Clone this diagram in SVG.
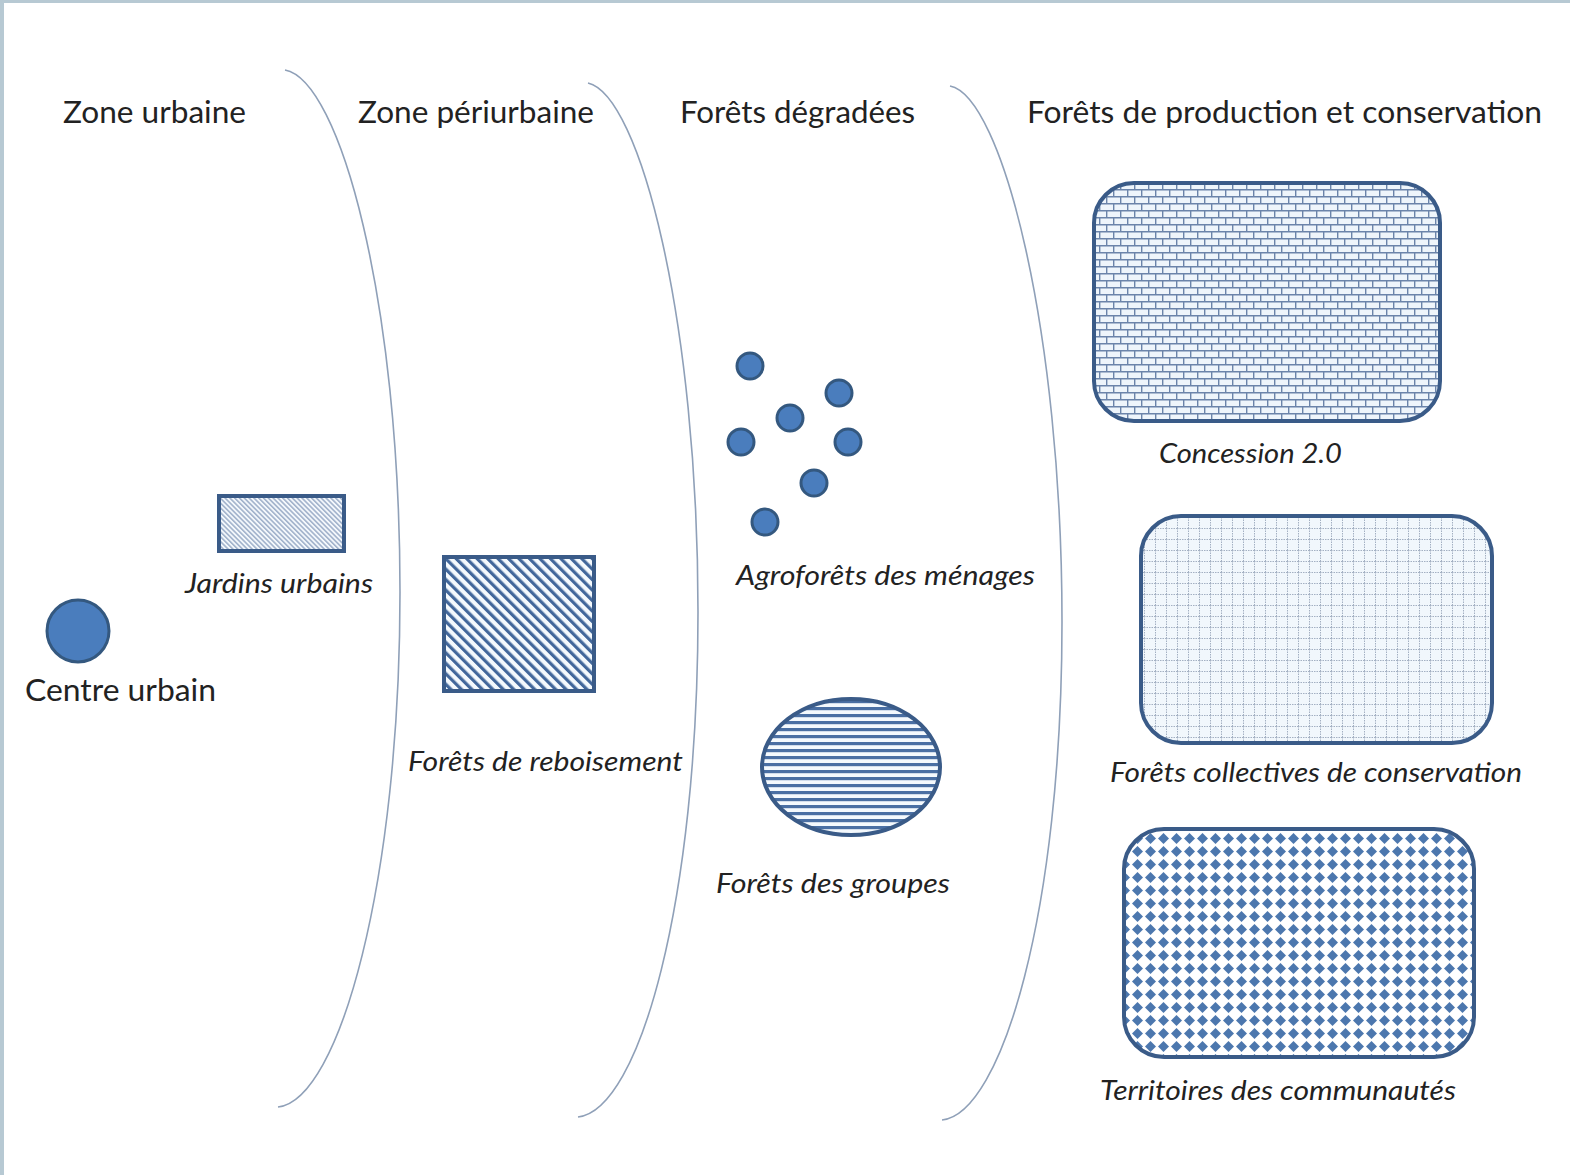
<svg xmlns="http://www.w3.org/2000/svg" width="1570" height="1175" viewBox="0 0 1570 1175">
<style>
.hdr{font-family:Lato,"Liberation Sans",sans-serif;font-size:31px;fill:#222}
.lbl{font-family:Lato,"Liberation Sans",sans-serif;font-size:27px;font-style:italic;fill:#222}
.zone{fill:none;stroke:#8fa0b8;stroke-width:1.6}
.shp{stroke:#3a5b88;stroke-width:4}
.dot{fill:#4a7dbd;stroke:#34587f;stroke-width:3}
</style>
<defs>
<pattern id="pJard" patternUnits="userSpaceOnUse" width="3.4" height="10" patternTransform="rotate(-45)">
<rect width="3.4" height="10" fill="#f4f8fc"/>
<line x1="0.8" y1="0" x2="0.8" y2="10" stroke="#8ea2c0" stroke-width="1.3"/>
</pattern>
<pattern id="pReb" patternUnits="userSpaceOnUse" width="7.4" height="10" patternTransform="rotate(-45)">
<rect width="7.4" height="10" fill="#f4f9fd"/>
<line x1="1.6" y1="0" x2="1.6" y2="10" stroke="#42679b" stroke-width="3.2"/>
</pattern>
<pattern id="pHor" patternUnits="userSpaceOnUse" width="10" height="7">
<rect width="10" height="7" fill="#f4f9fd"/>
<line x1="0" y1="1.6" x2="10" y2="1.6" stroke="#4a6fa3" stroke-width="3.2"/>
</pattern>
<pattern id="pBrick" patternUnits="userSpaceOnUse" width="14" height="14">
<rect width="14" height="14" fill="#eef5fb"/>
<path d="M0,0.7H14M0,7.7H14M0.7,0V7M7.7,7V14" stroke="#6b84aa" stroke-width="1.4" fill="none"/>
</pattern>
<pattern id="pGrid" patternUnits="userSpaceOnUse" width="11" height="11">
<rect width="11" height="11" fill="#f1f7fc"/>
<path d="M0,0.5H11M0.5,0V11" stroke="#a3b0c2" stroke-width="1" stroke-dasharray="1.5,1" fill="none"/>
</pattern>
<pattern id="pDiam" patternUnits="userSpaceOnUse" width="13" height="13">
<rect width="13" height="13" fill="#ffffff"/>
<polygon points="6.5,1 12,6.5 6.5,12 1,6.5" fill="#4c77ae"/>
</pattern>
</defs>
<rect x="0" y="0" width="1570" height="1175" fill="#ffffff"/>
<rect x="0" y="0" width="4" height="1175" fill="#b7c9d3"/>
<rect x="0" y="0" width="1570" height="3" fill="#b7c9d3"/>

<g id="connectors">
<path class="zone" d="M285,70 C340,80 400,300 400,592 C400,880 340,1100 278,1107"/>
<path class="zone" d="M588,83 C640,95 698,320 698,612 C698,900 640,1110 578,1117"/>
<path class="zone" d="M950,86 C1002,96 1062,330 1062,622 C1062,910 1002,1114 942,1120"/>
</g>

<g id="headers">
<text class="hdr" x="63" y="123" textLength="183" lengthAdjust="spacingAndGlyphs">Zone urbaine</text>
<text class="hdr" x="358" y="123" textLength="236" lengthAdjust="spacingAndGlyphs">Zone périurbaine</text>
<text class="hdr" x="680" y="123" textLength="235" lengthAdjust="spacingAndGlyphs">Forêts dégradées</text>
<text class="hdr" x="1027" y="123" textLength="515" lengthAdjust="spacingAndGlyphs">Forêts de production et conservation</text>
</g>

<g id="centre-urbain">
<circle class="dot" cx="78" cy="631" r="31"/>
<text class="hdr" x="25" y="701" textLength="191" lengthAdjust="spacingAndGlyphs">Centre  urbain</text>
</g>

<g id="jardins-urbains">
<rect class="shp" x="219" y="496" width="125" height="55" fill="url(#pJard)" stroke-width="3.5"/>
<text class="lbl" x="185" y="593" textLength="188" lengthAdjust="spacingAndGlyphs">Jardins urbains</text>
</g>

<g id="forets-reboisement">
<rect class="shp" x="444" y="557" width="150" height="134" fill="url(#pReb)"/>
<text class="lbl" x="408" y="771" textLength="275" lengthAdjust="spacingAndGlyphs">Forêts de reboisement</text>
</g>

<g id="agroforets">
<circle class="dot" cx="750" cy="366" r="13"/>
<circle class="dot" cx="839" cy="393" r="13"/>
<circle class="dot" cx="790" cy="418" r="13"/>
<circle class="dot" cx="741" cy="442" r="13"/>
<circle class="dot" cx="848" cy="442" r="13"/>
<circle class="dot" cx="814" cy="483" r="13"/>
<circle class="dot" cx="765" cy="522" r="13"/>
<text class="lbl" x="736" y="585" textLength="299" lengthAdjust="spacingAndGlyphs">Agroforêts des ménages</text>
</g>

<g id="forets-groupes">
<ellipse class="shp" cx="851" cy="767" rx="89" ry="68" fill="url(#pHor)"/>
<text class="lbl" x="716" y="893" textLength="234" lengthAdjust="spacingAndGlyphs">Forêts des groupes</text>
</g>

<g id="concession">
<rect class="shp" x="1094" y="183" width="346" height="238" rx="40" fill="url(#pBrick)"/>
<text class="lbl" x="1159" y="463" textLength="183" lengthAdjust="spacingAndGlyphs">Concession 2.0</text>
</g>

<g id="forets-collectives">
<rect class="shp" x="1141" y="516" width="351" height="227" rx="40" fill="url(#pGrid)"/>
<text class="lbl" x="1110" y="782" textLength="412" lengthAdjust="spacingAndGlyphs">Forêts collectives de conservation</text>
</g>

<g id="territoires">
<rect class="shp" x="1124" y="829" width="350" height="228" rx="40" fill="url(#pDiam)"/>
<text class="lbl" x="1100" y="1100" textLength="356" lengthAdjust="spacingAndGlyphs">Territoires des communautés</text>
</g>
</svg>
